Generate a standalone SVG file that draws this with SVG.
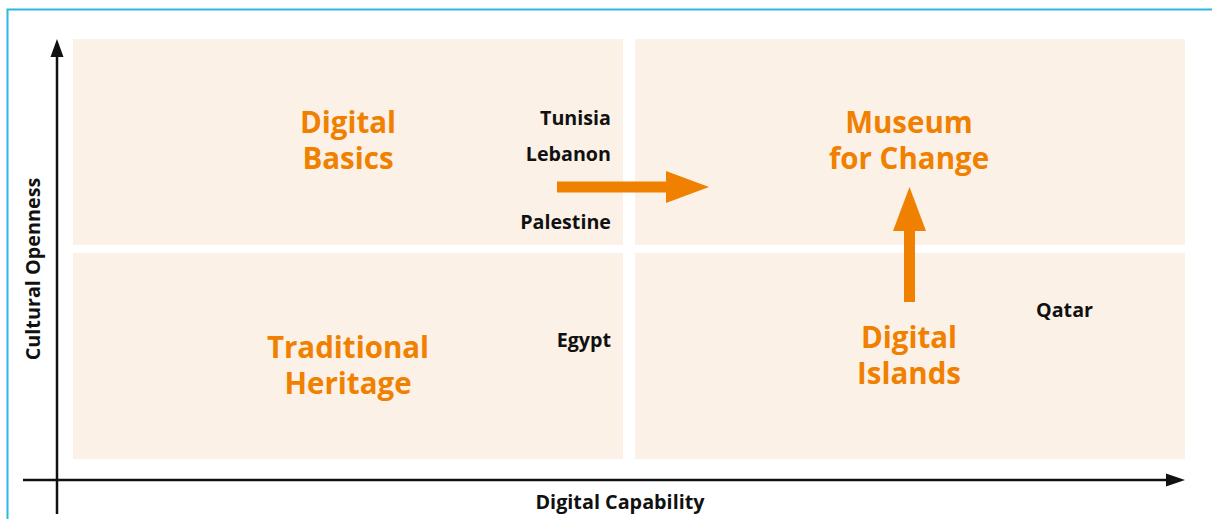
<svg xmlns="http://www.w3.org/2000/svg" width="1212" height="519" viewBox="0 0 1212 519">
  <style>
    .quad { fill: #FCF1E7; }
    .zone { font-family: "Open Sans", "Noto Sans", sans-serif; font-weight: 700; font-size: 29.5px; fill: #F08000; text-anchor: middle; }
    .country { font-family: "Open Sans", "Noto Sans", sans-serif; font-weight: 700; font-size: 19.7px; fill: #111111; text-anchor: end; }
    .axis-label { font-family: "Open Sans", "Noto Sans", sans-serif; font-weight: 700; font-size: 19.8px; fill: #111111; text-anchor: middle; }
    .axis { stroke: #111111; stroke-width: 2.5; fill: none; }
    .shift { fill: #F08000; }
  </style>

  <rect width="1212" height="519" fill="#FFFFFF"/>
  <!-- frame edge -->
  <path d="M7.5 519 V9.5 H1212" fill="none" stroke="#2BB8E3" stroke-width="2"/>

  <!-- quadrants -->
  <g id="digital-basics">
    <rect class="quad" x="73" y="39" width="550" height="206"/>
    <text class="zone"><tspan x="348" y="133">Digital</tspan><tspan x="348" y="169">Basics</tspan></text>
  </g>
  <g id="museum-for-change">
    <rect class="quad" x="635" y="39" width="550" height="206"/>
    <text class="zone"><tspan x="909" y="133">Museum</tspan><tspan x="909" y="169">for Change</tspan></text>
  </g>
  <g id="traditional-heritage">
    <rect class="quad" x="73" y="253" width="550" height="206"/>
    <text class="zone"><tspan x="348" y="358">Traditional</tspan><tspan x="348" y="394">Heritage</tspan></text>
  </g>
  <g id="digital-islands">
    <rect class="quad" x="635" y="253" width="550" height="206"/>
    <text class="zone"><tspan x="909" y="348">Digital</tspan><tspan x="909" y="384">Islands</tspan></text>
  </g>

  <!-- countries -->
  <g id="countries">
    <text class="country" x="611" y="125">Tunisia</text>
    <text class="country" x="611" y="161">Lebanon</text>
    <text class="country" x="611" y="229">Palestine</text>
    <text class="country" x="611" y="347">Egypt</text>
    <text class="country" x="1093" y="317">Qatar</text>
  </g>

  <!-- axes -->
  <g id="axes">
    <line class="axis" x1="57" y1="514" x2="57" y2="56"/>
    <polygon points="57,39 50.5,57 63.5,57" fill="#111111"/>
    <line class="axis" x1="23" y1="480" x2="1168" y2="480"/>
    <polygon points="1185,480 1166,473.5 1166,486.5" fill="#111111"/>
    <text class="axis-label" x="620" y="509">Digital Capability</text>
    <text class="axis-label" transform="translate(39.5 269) rotate(-90)">Cultural Openness</text>
  </g>

  <!-- shift arrows -->
  <g id="connectors">
    <path class="shift" d="M557 181.5 H666 V171 L709 187 L666 203 V192.5 H557 Z"/>
    <path class="shift" d="M904 302 V231 H893 L909.5 187 L926 231 H915 V302 Z"/>
  </g>
</svg>
